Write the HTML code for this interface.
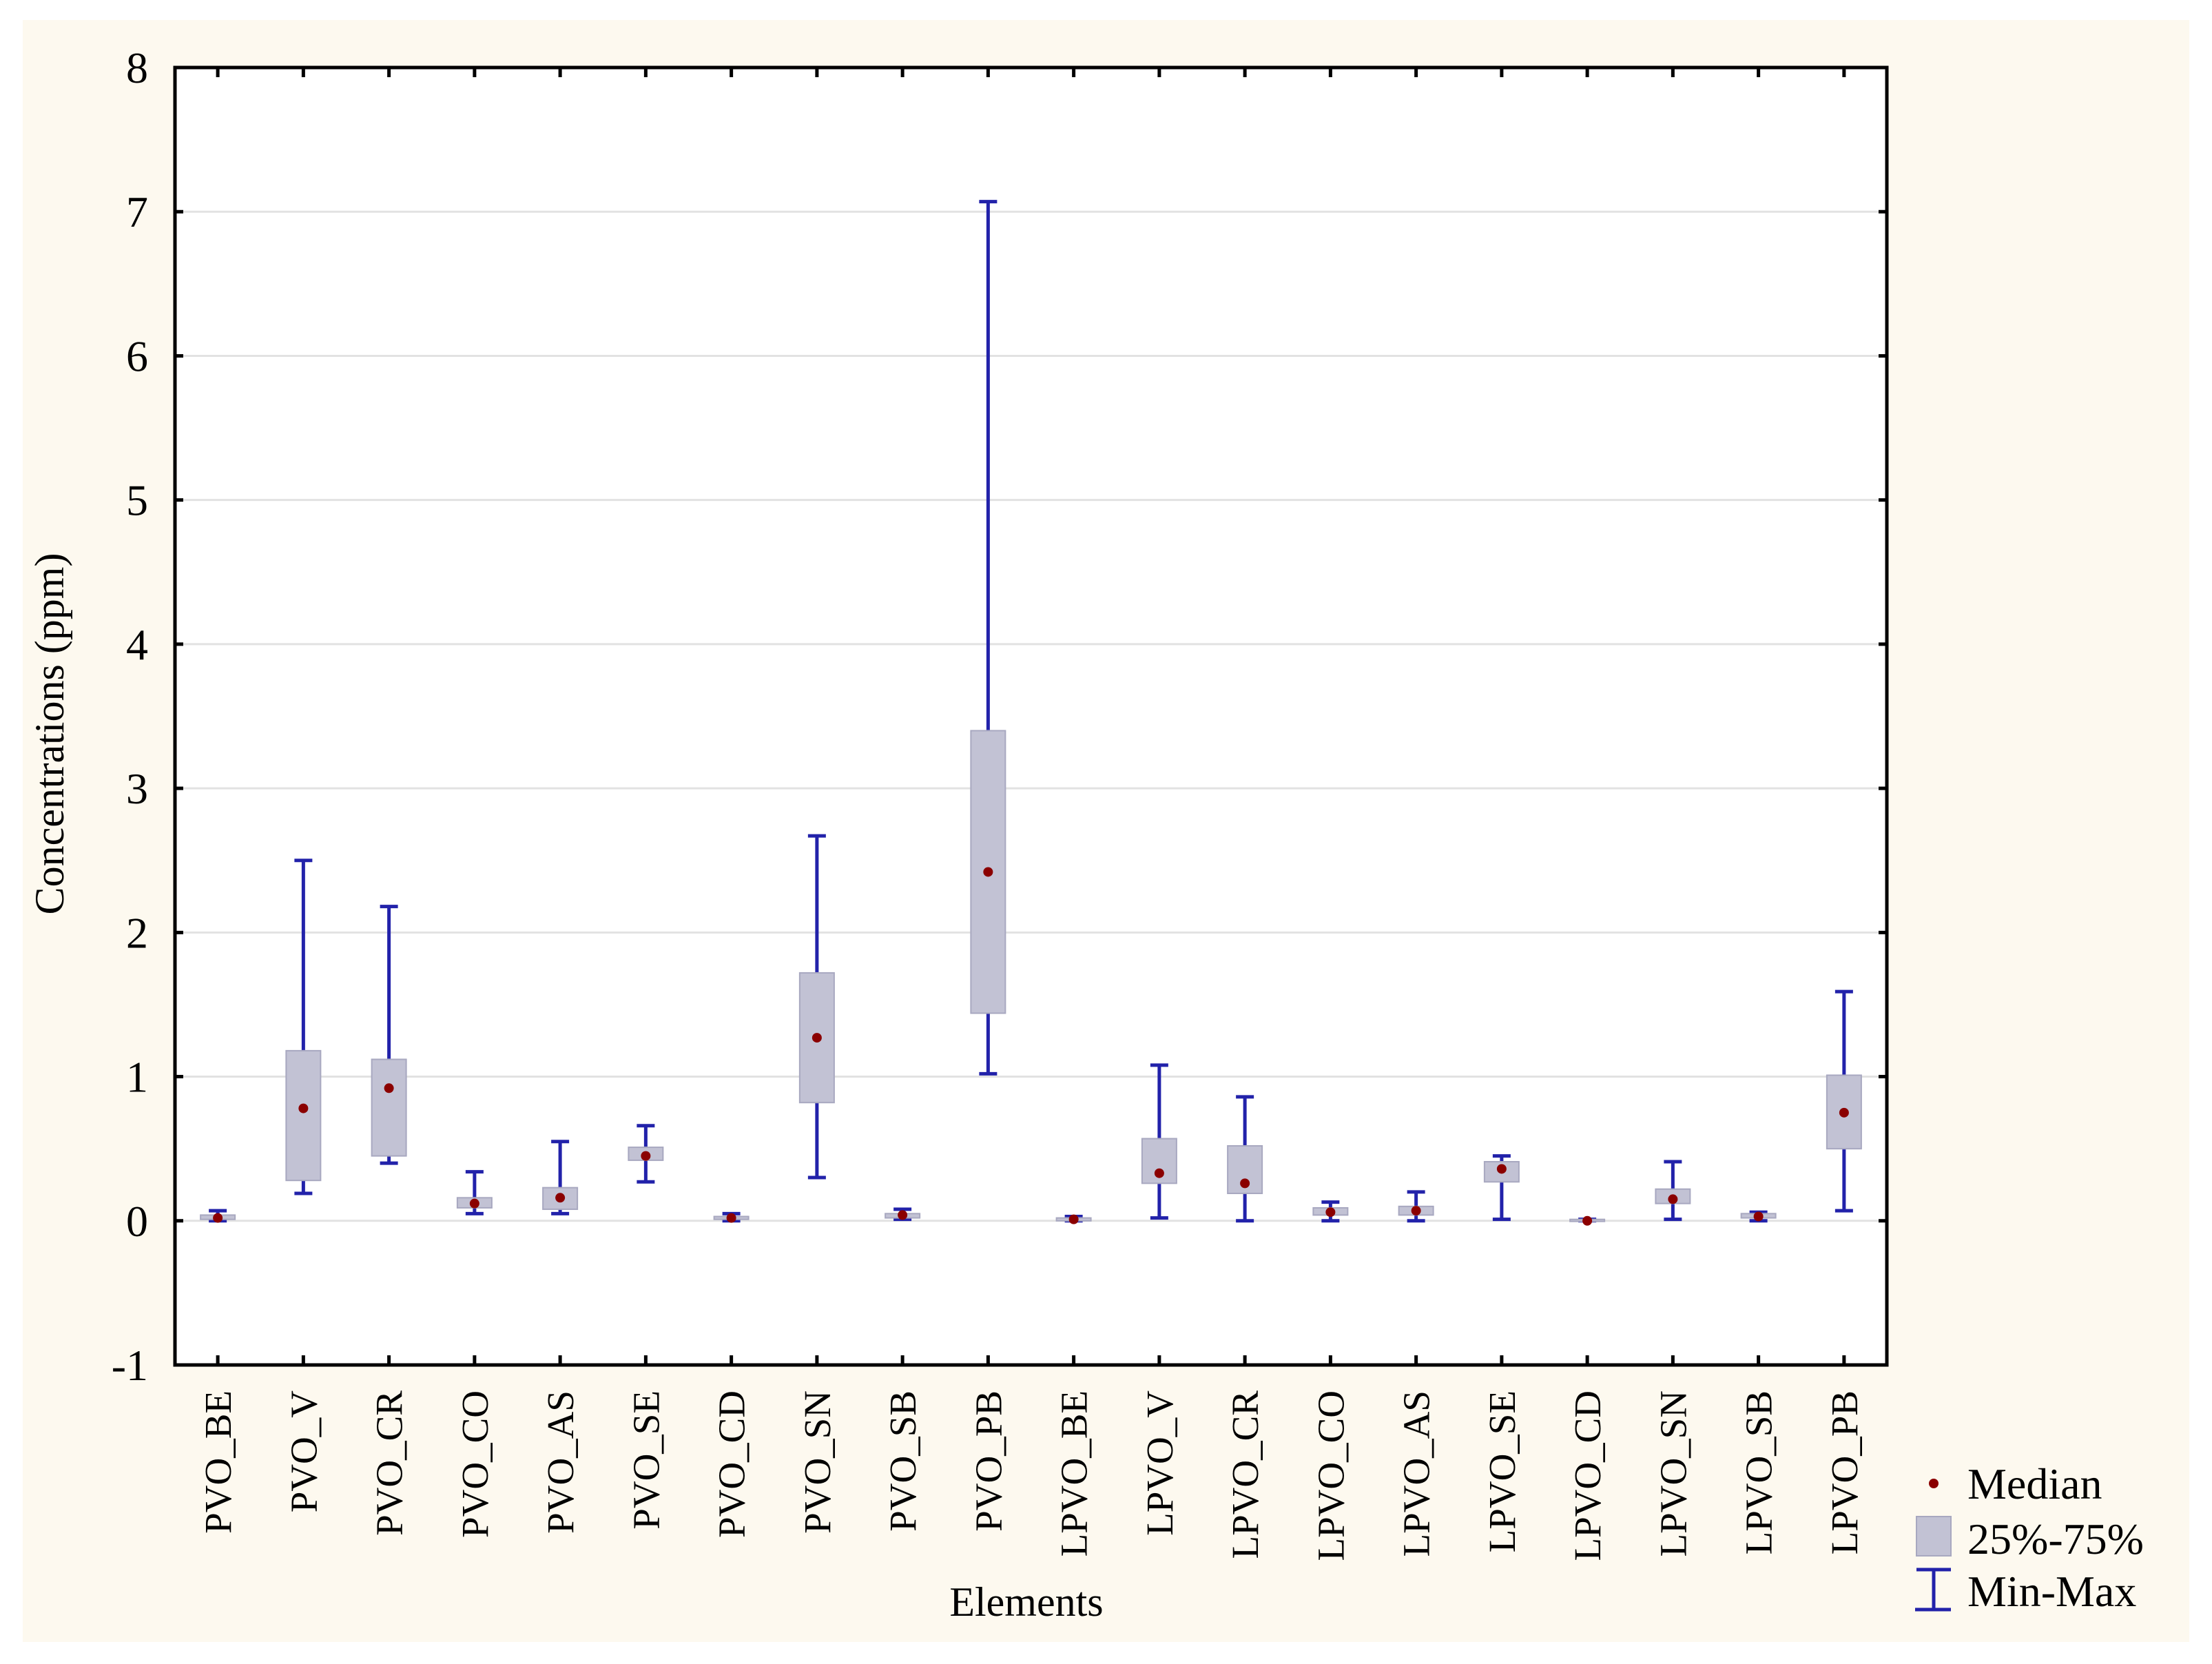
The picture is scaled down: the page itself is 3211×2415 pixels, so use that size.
<!DOCTYPE html>
<html><head><meta charset="utf-8"><style>
html,body{margin:0;padding:0;background:#fff;}
svg{display:block;font-family:"Liberation Serif",serif;}
</style></head><body>
<svg id="chart" width="3211" height="2415" viewBox="0 0 3211 2415" xmlns="http://www.w3.org/2000/svg">
<rect x="33" y="29" width="3145" height="2354" fill="#fdf9ef"/>
<rect x="254" y="98" width="2485" height="1883" fill="#ffffff"/>
<g id="grid"></g>
<g id="marks"></g>
<rect x="254" y="98" width="2485" height="1883" fill="none" stroke="#000" stroke-width="5"/>
<g id="axes"></g>
<text x="92" y="1065" font-size="60" text-anchor="middle" transform="rotate(-90 92 1065)">Concentrations (ppm)</text>
<text x="1490" y="2345" font-size="60" text-anchor="middle">Elements</text>
<g>
<circle cx="2807" cy="2153" r="7" fill="#8b0000"/>
<text x="2856" y="2175" font-size="64">Median</text>
<rect x="2782" y="2201" width="50" height="57" fill="#c2c2d4" stroke="#a8a8c0" stroke-width="2"/>
<text x="2856" y="2255" font-size="64">25%-75%</text>
<path d="M2782 2278 H2832 M2807 2278 V2336 M2780 2336 H2832" stroke="#2222aa" stroke-width="5" fill="none"/>
<text x="2856" y="2331" font-size="64">Min-Max</text>
</g>
</svg>
<script>
const categories = ["PVO_BE","PVO_V","PVO_CR","PVO_CO","PVO_AS","PVO_SE","PVO_CD","PVO_SN","PVO_SB","PVO_PB","LPVO_BE","LPVO_V","LPVO_CR","LPVO_CO","LPVO_AS","LPVO_SE","LPVO_CD","LPVO_SN","LPVO_SB","LPVO_PB"];
const minVals = [0.00,0.19,0.40,0.05,0.05,0.27,0.00,0.30,0.01,1.02,0.00,0.02,0.00,0.00,0.00,0.01,0.00,0.01,0.00,0.07];
const q1Vals  = [0.01,0.28,0.45,0.09,0.08,0.42,0.01,0.82,0.02,1.44,0.00,0.26,0.19,0.04,0.04,0.27,0.00,0.12,0.02,0.50];
const medVals = [0.02,0.78,0.92,0.12,0.16,0.45,0.02,1.27,0.04,2.42,0.01,0.33,0.26,0.06,0.07,0.36,0.00,0.15,0.03,0.75];
const q3Vals  = [0.04,1.18,1.12,0.16,0.23,0.51,0.03,1.72,0.05,3.40,0.02,0.57,0.52,0.09,0.10,0.41,0.01,0.22,0.05,1.01];
const maxVals = [0.07,2.50,2.18,0.34,0.55,0.66,0.05,2.67,0.08,7.07,0.03,1.08,0.86,0.13,0.20,0.45,0.01,0.41,0.06,1.59];
const yTicks = [-1,0,1,2,3,4,5,6,7,8];

const NS="http://www.w3.org/2000/svg";
const L=254,R=2739,T=98,B=1981,yMin=-1,yMax=8;
const band=(R-L)/categories.length;
function xPos(i){return L+band*(i+0.5);}
function yPos(v){return B-(v-yMin)/(yMax-yMin)*(B-T);}
function mk(tag,attrs,parent){const e=document.createElementNS(NS,tag);for(const k in attrs)e.setAttribute(k,attrs[k]);parent.appendChild(e);return e;}
const grid=document.getElementById('grid'),marks=document.getElementById('marks'),axes=document.getElementById('axes');
yTicks.forEach(t=>{
  const y=yPos(t);
  if(t>yMin&&t<yMax){
    const g=mk('line',{x1:L,x2:R,y1:y,y2:y,stroke:'#e2e2e2','stroke-width':3},grid);
    
    
  }
  const tk=mk('path',{d:`M${L} ${y} H${L+12} M${R} ${y} H${R-12}`,stroke:'#000','stroke-width':5},axes);
  
  
  const tx=mk('text',{x:215,y:y+22,'font-size':64,'text-anchor':'end'},axes);
  tx.textContent=t;
  
  
});
categories.forEach((c,i)=>{
  const x=xPos(i);
  const tk=mk('path',{d:`M${x} ${T} V${T+14} M${x} ${B} V${B-14}`,stroke:'#000','stroke-width':5},axes);
  
  
  const lx=x+19,ly=2018;
  const tx=mk('text',{x:lx,y:ly,'font-size':55,'text-anchor':'end',transform:`rotate(-90 ${lx} ${ly})`},axes);
  tx.textContent=c;
  
  
  const g=mk('g',{},marks);
  
  
  const w=mk('path',{d:`M${x} ${yPos(maxVals[i])} V${yPos(minVals[i])} M${x-13} ${yPos(maxVals[i])} H${x+13} M${x-13} ${yPos(minVals[i])} H${x+13}`,stroke:'#2222aa','stroke-width':5,fill:'none'},g);
  
  
  const top=yPos(q3Vals[i]),bot=yPos(q1Vals[i]);
  const bx=mk('rect',{x:x-25,y:top,width:50,height:Math.max(bot-top,3),fill:'#c2c2d4',stroke:'#a8a8c0','stroke-width':2},g);
  
  
  const d=mk('circle',{cx:x,cy:yPos(medVals[i]),r:7,fill:'#8b0000'},g);
  
  
});
</script>
</body></html>
